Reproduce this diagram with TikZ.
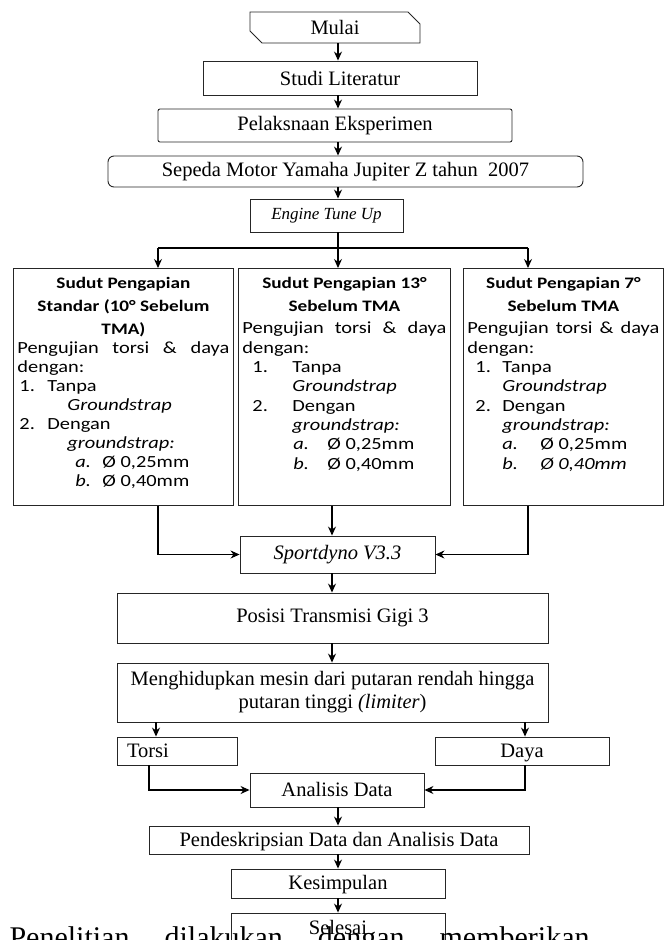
\documentclass[tikz,border=0pt]{standalone}
\usepackage{fontspec}
\setmainfont{Liberation Serif}
\newfontfamily\boxfont{Carlito}[FakeStretch=1.2]
\usetikzlibrary{arrows.meta,shapes.misc,positioning}

% one list line: indent, label width, label, text
\newcommand{\gitem}[4]{\hspace*{#1pt}\makebox[#2pt][l]{#3}#4\par}

\begin{document}
\begin{tikzpicture}[x=1pt,y=-1pt,->,>={Stealth[length=9pt,width=8pt]},line width=1.1pt,
                    font=\fontsize{20.5}{23}\selectfont]
  \tikzstyle{stepbox}=[draw=black!85,line width=0.9pt,inner sep=0pt,align=center]
  \tikzstyle{oneline}=[text height=15pt,text depth=3pt]
  \tikzstyle{ignbox}=[draw=black!85,line width=0.9pt,inner xsep=4pt,inner ysep=4pt,anchor=north west]

  \useasboundingbox (0,0) rectangle (668,940);

  % top of the chart
  \node[stepbox,chamfered rectangle,chamfered rectangle corners={north east,south west},
        chamfered rectangle xsep=6pt,chamfered rectangle ysep=6pt,
        minimum width=170pt,minimum height=31pt] (mulai) at (335,27.5) {Mulai};
  \node[stepbox,minimum width=274pt,minimum height=34pt] (studi) at (340,78) {Studi Literatur};
  \node[stepbox,rounded corners=2pt,minimum width=354pt,minimum height=33pt] (eksp) at (335,125.5) {Pelaksnaan Eksperimen};
  \node[stepbox,rounded corners=6pt,minimum width=475pt,minimum height=31pt] (motor) at (345.5,171.5) {Sepeda Motor Yamaha Jupiter Z tahun\ \ 2007};
  \node[stepbox,minimum width=153pt,minimum height=33pt,font=\fontsize{17}{20}\selectfont\itshape] (tune) at (326.5,215.5) {Engine Tune Up};

  % three ignition settings
  \node[ignbox] (std) at (13,268) {\parbox[t][229pt][t]{212pt}{\boxfont\vspace*{5pt}
    {\centering\bfseries\fontsize{16}{23}\selectfont Sudut Pengapian\\ Standar (10° Sebelum\\ TMA)\par}
    \fontsize{17}{19}\selectfont
    Pengujian torsi \& daya\linebreak dengan:\par
    \gitem{2}{28}{1.}{Tanpa}
    \gitem{50}{0}{}{\textit{Groundstrap}}
    \gitem{2}{28}{2.}{Dengan}
    \gitem{50}{0}{}{\textit{groundstrap:}}
    \gitem{58}{27}{\textit{a.}}{Ø 0,25mm}
    \gitem{58}{27}{\textit{b.}}{Ø 0,40mm}}};
  \node[ignbox] (deg13) at (238,268) {\parbox[t][229pt][t]{204pt}{\boxfont\vspace*{5pt}
    {\centering\bfseries\fontsize{16}{23}\selectfont Sudut Pengapian 13°\\ Sebelum TMA\par}
    \fontsize{17}{19.3}\selectfont\vspace{3pt}
    Pengujian torsi \& daya\linebreak dengan:\par
    \gitem{10}{40}{1.}{Tanpa}
    \gitem{50}{0}{}{\textit{Groundstrap}}
    \gitem{10}{40}{2.}{Dengan}
    \gitem{50}{0}{}{\textit{groundstrap:}}
    \gitem{51}{34}{\textit{a.}}{Ø 0,25mm}
    \gitem{51}{34}{\textit{b.}}{Ø 0,40mm}}};
  \node[ignbox] (deg7) at (463,268) {\parbox[t][229pt][t]{192pt}{\boxfont\vspace*{5pt}
    {\centering\bfseries\fontsize{16}{23}\selectfont Sudut Pengapian 7°\\ Sebelum TMA\par}
    \fontsize{17}{19.3}\selectfont\vspace{3pt}
    Pengujian torsi \& daya\linebreak dengan:\par
    \gitem{8}{27}{1.}{Tanpa}
    \gitem{35}{0}{}{\textit{Groundstrap}}
    \gitem{8}{27}{2.}{Dengan}
    \gitem{35}{0}{}{\textit{groundstrap:}}
    \gitem{35}{38}{\textit{a.}}{Ø 0,25mm}
    \gitem{35}{38}{\textit{b.}}{\textit{Ø 0,40mm}}}};

  % measuring and results
  \node[stepbox,minimum width=195pt,minimum height=37pt,font=\fontsize{20.5}{23}\selectfont\itshape] (dyno) at (337.5,554.5) {Sportdyno V3.3};
  \node[stepbox,minimum width=431pt,minimum height=50pt] (gigi) at (332.5,618) {Posisi Transmisi Gigi 3};
  \node[stepbox,minimum width=431pt,minimum height=59pt] (mesin) at (332.5,692.5) {Menghidupkan mesin dari putaran rendah hingga\\ putaran tinggi \textit{(limiter})};
  \node[stepbox,oneline,minimum width=120pt,minimum height=28pt,inner xsep=10pt,text width=100pt,align=left] (torsi) at (177,751) {Torsi};
  \node[stepbox,oneline,minimum width=174pt,minimum height=28pt] (daya) at (522,751) {Daya};
  \node[stepbox,oneline,minimum width=174pt,minimum height=34pt] (anal) at (337,790) {Analisis Data};
  \node[stepbox,oneline,minimum width=380pt,minimum height=28pt] (desk) at (339,840) {Pendeskripsian Data dan Analisis Data};
  \node[stepbox,oneline,minimum width=214pt,minimum height=29pt] (simp) at (338,883.5) {Kesimpulan};
  \node[stepbox,minimum width=214pt,minimum height=29pt] (selesai) at (338,927.5) {Selesai};

  % columns for the connectors
  \coordinate (upcol) at (338,0);
  \coordinate (midcol) at (332,0);
  \coordinate (split) at (338,248);
  \coordinate (leftdrop) at (158,248);
  \coordinate (rightdrop) at (528,248);
  \coordinate (torsidrop) at (156,0);
  \coordinate (torsiout) at (149,0);
  \coordinate (dayadrop) at (525,0);

  \draw (upcol |- mulai.south) -- (upcol |- studi.north);
  \draw (upcol |- studi.south) -- (upcol |- eksp.north);
  \draw (upcol |- eksp.south) -- (upcol |- motor.north);
  \draw (upcol |- motor.south) -- (upcol |- tune.north);
  \draw[-] (upcol |- tune.south) -- (split);
  \draw[-] (leftdrop) -- (rightdrop);
  \draw (leftdrop) -- (leftdrop |- std.north);
  \draw (split) -- (split |- deg13.north);
  \draw (rightdrop) -- (rightdrop |- deg7.north);

  \draw (leftdrop |- std.south) |- (dyno.west);
  \draw (midcol |- deg13.south) -- (midcol |- dyno.north);
  \draw (rightdrop |- deg7.south) |- (dyno.east);
  \draw (midcol |- dyno.south) -- (midcol |- gigi.north);
  \draw (midcol |- gigi.south) -- (midcol |- mesin.north);
  \draw (torsidrop |- mesin.south) -- (torsidrop |- torsi.north);
  \draw (dayadrop |- mesin.south) -- (dayadrop |- daya.north);
  \draw (torsiout |- torsi.south) |- (anal.west);
  \draw (dayadrop |- daya.south) |- (anal.east);
  \draw (upcol |- anal.south) -- (upcol |- desk.north);
  \draw (upcol |- desk.south) -- (upcol |- simp.north);
  \draw (upcol |- simp.south) -- (upcol |- selesai.north);

  % page text running under the chart
  \node[anchor=base west,inner sep=0pt,font=\fontsize{30}{34}\selectfont] (para) at (9,947)
    {\makebox[580pt][s]{Penelitian dilakukan dengan memberikan}};
\end{tikzpicture}
\end{document}
